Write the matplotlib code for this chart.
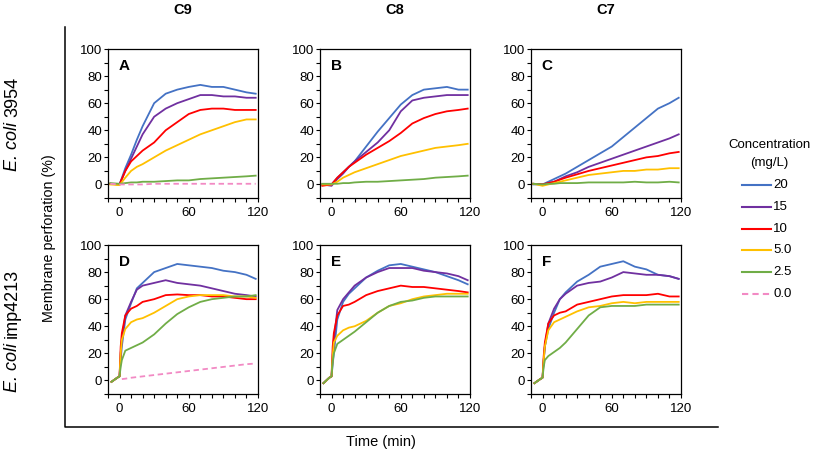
"""Membrane perforation over time for C9/C8/C7 against two E. coli strains."""

import matplotlib

matplotlib.use("Agg")
import matplotlib.pyplot as plt
import numpy as np
from matplotlib.lines import Line2D
from matplotlib.ticker import MultipleLocator

plt.rcParams["font.family"] = ["Liberation Sans", "DejaVu Sans"]

W, H = 813, 455

COLUMNS = ["C9", "C8", "C7"]
ROWS = ["3954", "imp4213"]
CONC = ["20", "15", "10", "5.0", "2.5", "0.0"]
COLORS = ["#4472C4", "#7030A0", "#FF0000", "#FFC000", "#70AD47", "#F28AC4"]

nan = np.nan

# row 1 (E. coli 3954) time points, min
t1 = [-8, 0, 5, 10, 15, 20, 30, 40, 50, 60, 70, 80, 90, 100, 110, 118]
# row 2 (E. coli imp4213) time points, min
t2 = [-7, -2, 0, 1, 2, 5, 10, 15, 20, 30, 40, 50, 60, 70, 80, 90, 100, 110, 118]

# panel A: C9 / 3954
a_20 = [0.5, 0, 12, 22, 33, 43, 60, 67, 70, 72, 73.5, 72, 72, 70, 68, 67]
a_15 = [0.5, 0, 10, 19, 28, 37, 50, 56, 60, 63, 66, 66, 65, 65, 64, 64]
a_10 = [0.5, 0, 10, 17, 21, 25, 31, 40, 46, 52, 55, 56, 56, 55, 55, 55]
a_5 = [0, -0.5, 5, 10, 13, 15, 20, 25, 29, 33, 37, 40, 43, 46, 48, 48]
a_2 = [1, 0.5, 1, 1.5, 1.5, 2, 2, 2.5, 3, 3, 4, 4.5, 5, 5.5, 6, 6.5]
a_0 = [0.5, 0, 0, 0, 0, 0, 0.5, 0.5, 0.5, 0.5, 0.5, 0.5, 0.5, 0.5, 0.5, 0.5]

# panel B: C8 / 3954
b_20 = [0, 0, 5, 9, 13, 17, 28, 39, 49, 59, 66, 70, 71, 72, 70, 70]
b_15 = [0, -1, 4, 8, 13, 17, 24, 31, 40, 54, 62, 64, 65, 66, 66, 66]
b_10 = [-1, 0, 5, 9, 13, 16, 22, 27, 32, 38, 45, 49, 52, 54, 55, 56]
b_5 = [0, 0, 2, 5, 7, 9, 12, 15, 18, 21, 23, 25, 27, 28, 29, 30]
b_2 = [0.5, 0.5, 0.5, 1, 1, 1.5, 2, 2, 2.5, 3, 3.5, 4, 5, 5.5, 6, 6.5]

# panel C: C7 / 3954
c_20 = [0, 0, 2, 4, 6, 8, 13, 18, 23, 28, 35, 42, 49, 56, 60, 64]
c_15 = [0.5, 0, 1, 2, 4, 6, 9, 13, 16, 19, 22, 25, 28, 31, 34, 37]
c_10 = [0.5, 0, 1, 2, 3.5, 5, 7.5, 10, 12, 14, 16, 18, 20, 21, 23, 24]
c_5 = [0.5, -1, 0, 1, 2, 3, 5, 7, 8, 9, 10, 10, 11, 11, 12, 12]
c_2 = [0.5, 0, 0.5, 0.5, 1, 1, 1, 1.5, 1.5, 1.5, 1.5, 2, 1.5, 1.5, 2, 1.5]

# panel D: C9 / imp4213
d_20 = [-1, 2, 3, 15, 25, 45, 57, 68, 72, 80, 83, 86, 85, 84, 83, 81, 80, 78, 75]
d_15 = [-1, 2, 3, 20, 30, 48, 58, 67, 70, 72, 74, 72, 71, 70, 68, 66, 64, 63, 62]
d_10 = [-1, 2, 3, 25, 35, 48, 53, 55, 58, 60, 63, 63.5, 63, 63, 62, 62, 61, 60, 60]
d_5 = [-1, 2, 3, 20, 30, 38, 43, 45, 46, 50, 55, 60, 62, 63, 63, 63, 62, 62, 61]
d_2 = [-1, 2, 3, 10, 15, 22, 24, 26, 28, 34, 42, 49, 54, 58, 60, 61, 62, 62, 63]
d_0 = [nan, nan, nan, nan, 1, 1.3, 2, 2.5, 3, 4, 5, 6, 7, 8, 9, 10, 11, 12, 12.5]

# panel E: C8 / imp4213
e_20 = [-2, 2, 3, 12, 20, 45, 58, 64, 68, 76, 81, 85, 86, 84, 82, 80, 77, 74, 71]
e_15 = [-2, 2, 3, 18, 30, 52, 60, 65, 70, 76, 80, 83, 83, 83, 81, 80, 79, 77, 74]
e_10 = [-2, 2, 3, 25, 35, 48, 55, 56, 58, 63, 66, 68, 70, 69, 69, 68, 67, 66, 65]
e_5 = [-2, 2, 3, 18, 28, 33, 37, 39, 40, 44, 50, 55, 57, 60, 62, 63, 64, 64, 64]
e_2 = [-2, 2, 3, 14, 20, 27, 30, 33, 36, 43, 50, 55, 58, 59, 61, 62, 62, 62, 62]

# panel F: C7 / imp4213
f_20 = [-2, 1, 2, 15, 25, 38, 50, 60, 65, 73, 78, 84, 86, 88, 84, 82, 78, 77, 75]
f_15 = [-2, 1, 2, 15, 25, 42, 53, 60, 64, 70, 72, 73, 76, 80, 79, 78, 78, 77, 75]
f_10 = [-2, 1, 2, 18, 28, 42, 48, 50, 51, 56, 58, 60, 62, 63, 63, 63, 64, 62, 62]
f_5 = [-2, 1, 2, 15, 25, 37, 43, 45, 47, 51, 54, 55, 57, 58, 57, 58, 58, 58, 58]
f_2 = [-2, 1, 2, 10, 15, 18, 21, 24, 28, 38, 48, 54, 55, 55, 55, 56, 56, 56, 56]

PANELS = [
    ("A", t1, [a_20, a_15, a_10, a_5, a_2, a_0]),
    ("B", t1, [b_20, b_15, b_10, b_5, b_2, None]),
    ("C", t1, [c_20, c_15, c_10, c_5, c_2, None]),
    ("D", t2, [d_20, d_15, d_10, d_5, d_2, d_0]),
    ("E", t2, [e_20, e_15, e_10, e_5, e_2, None]),
    ("F", t2, [f_20, f_15, f_10, f_5, f_2, None]),
]

# pixel boxes of the panels (left, top, width, height)
COL_LEFT = [108, 320, 531]
ROW_TOP = [49, 245]
AX_W, AX_H = 150, 149


def fx(px):
    return px / W


def fy(py):
    return 1 - py / H


fig = plt.figure(figsize=(W / 100, H / 100), dpi=100)

for i, (letter, t, series) in enumerate(PANELS):
    r, c = divmod(i, 3)
    left, top = COL_LEFT[c], ROW_TOP[r]
    ax = fig.add_axes([fx(left), fy(top + AX_H), AX_W / W, AX_H / H])
    for vals, color in zip(series, COLORS):
        if vals is None:
            continue
        if color == COLORS[-1]:
            ax.plot(t, vals, color=color, lw=1.3, ls="--", dashes=(3, 2))
        else:
            ax.plot(t, vals, color=color, lw=1.3)
    ax.set_xlim(-10, 120)
    ax.set_ylim(-10, 100)
    ax.set_xticks([0, 60, 120])
    ax.xaxis.set_minor_locator(MultipleLocator(10))
    ax.set_yticks(range(0, 101, 20))
    ax.yaxis.set_minor_locator(MultipleLocator(10))
    ax.tick_params(which="both", direction="out", length=2.8, width=0.8,
                   labelsize=9.5, pad=1.5)
    ax.tick_params(axis="x", pad=3.5)
    for sp in ax.spines.values():
        sp.set_linewidth(0.9)
    ax.text(0.107, 0.886, letter, transform=ax.transAxes, fontsize=11,
            fontweight="bold", ha="center", va="center")

# column titles
for c, name in enumerate(COLUMNS):
    fig.text(fx(COL_LEFT[c] + AX_W / 2), fy(10), name, fontsize=10.5,
             fontweight="bold", ha="center", va="center")

# row labels: italic species + upright strain, read bottom to top
renderer = fig.canvas.get_renderer()
gap = 0.278 * 13 * 100 / 72
for strain, yc in zip(ROWS, [124, 330]):
    kw = dict(rotation=90, rotation_mode="anchor", fontsize=13, ha="left", va="baseline")
    t_it = fig.text(fx(17), 0, "E. coli", style="italic", **kw)
    t_st = fig.text(fx(17), 0, strain, **kw)
    h1 = t_it.get_window_extent(renderer).height
    h2 = t_st.get_window_extent(renderer).height
    y0 = (H - yc) - (h1 + gap + h2) / 2
    t_it.set_y(y0 / H)
    t_st.set_y((y0 + h1 + gap) / H)

fig.text(fx(49), fy(238), "Membrane perforation (%)", rotation=90, fontsize=10.3,
         ha="center", va="center")
fig.text(fx(381), fy(442), "Time (min)", fontsize=10.5, ha="center", va="center")

# L-shaped frame
fig.add_artist(Line2D([fx(65), fx(65), fx(718)], [fy(27), fy(427), fy(427)],
                      color="black", lw=1.1))

# legend
fig.text(fx(769), fy(145), "Concentration", fontsize=9.5, ha="center", va="center")
fig.text(fx(769), fy(163), "(mg/L)", fontsize=9.5, ha="center", va="center")
for k, (lab, color) in enumerate(zip(CONC, COLORS)):
    y = fy(185 + k * 21.8)
    if k == len(CONC) - 1:
        handle = Line2D([fx(742), fx(771)], [y, y], color=color, lw=1.5, ls="--",
                        dashes=(3, 2))
    else:
        handle = Line2D([fx(742), fx(771)], [y, y], color=color, lw=1.5)
    fig.add_artist(handle)
    fig.text(fx(773), y, lab, fontsize=9.5, ha="left", va="center")

fig.savefig("out.png", dpi=100)
